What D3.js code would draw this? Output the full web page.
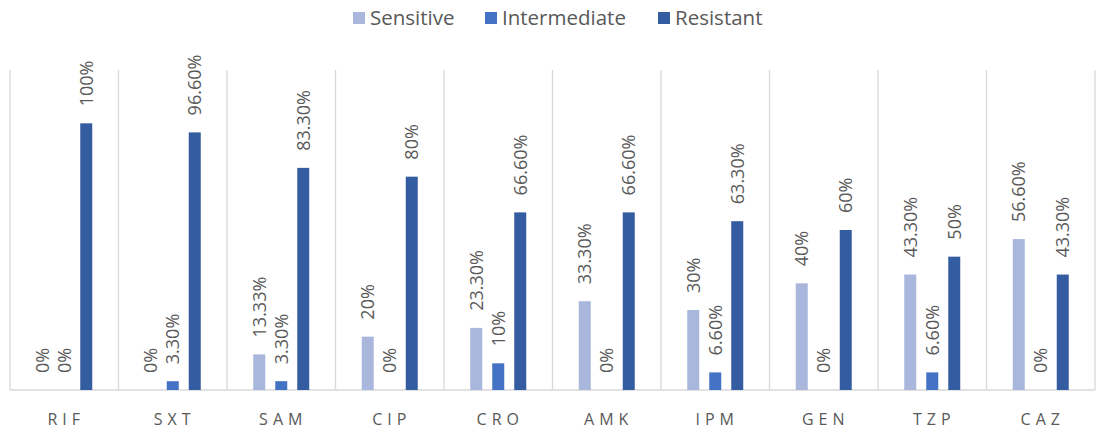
<!DOCTYPE html>
<html><head><meta charset="utf-8">
<script src="https://cdn.jsdelivr.net/npm/d3@7"></script>
<style>body{margin:0;background:#fff}svg{display:block}</style>
</head><body>
<svg id="c" width="1096" height="432"></svg>
<script>
const categories = ["RIF","SXT","SAM","CIP","CRO","AMK","IPM","GEN","TZP","CAZ"];
const seriesNames = ["Sensitive","Intermediate","Resistant"];
const sensitive = [0,0,13.33,20,23.3,33.3,30,40,43.3,56.6];
const intermediate = [0,3.3,3.3,0,10,0,6.6,0,6.6,0];
const resistant = [100,96.6,83.3,80,66.6,66.6,63.3,60,50,43.3];
const labelsS = ["0%","0%","13.33%","20%","23.30%","33.30%","30%","40%","43.30%","56.60%"];
const labelsI = ["0%","3.30%","3.30%","0%","10%","0%","6.60%","0%","6.60%","0%"];
const labelsR = ["100%","96.60%","83.30%","80%","66.60%","66.60%","63.30%","60%","50%","43.30%"];
const colors = ["#A9B7DC","#4472C4","#345CA0"];

(function(){
const svg = d3.select("#c");
const font = "'Open Sans', 'Noto Sans', sans-serif";
const pl = 10, pr = 1095, pt = 70, pb = 390;
const x = d3.scaleBand().domain(categories).range([pl, pr]).padding(0);
const y = d3.scaleLinear().domain([0, 120]).range([pb, pt]);

const gx = d3.range(categories.length + 1).map(i => pl + i * x.bandwidth());
svg.append("g").selectAll("line").data(gx).join("line")
  .attr("x1", d => d).attr("x2", d => d).attr("y1", pt).attr("y2", pb)
  .attr("stroke", "#D9D9D9").attr("stroke-width", 1.3);
svg.append("line").attr("x1", pl).attr("x2", pr).attr("y1", pb).attr("y2", pb)
  .attr("stroke", "#D9D9D9").attr("stroke-width", 1.3);

const data = [sensitive, intermediate, resistant];
const labels = [labelsS, labelsI, labelsR];
const barW = 12, step = 22;
seriesNames.forEach((s, si) => {
  const g = svg.append("g");
  const off = (si - 1) * step;
  g.selectAll("rect").data(categories).join("rect")
    .attr("x", (c) => x(c) + x.bandwidth() / 2 + off - barW / 2)
    .attr("width", barW)
    .attr("y", (c, i) => y(data[si][i]))
    .attr("height", (c, i) => pb - y(data[si][i]))
    .attr("fill", colors[si]);
  g.selectAll("text").data(categories).join("text")
    .attr("transform", (c, i) => {
      const cx = x(c) + x.bandwidth() / 2 + off;
      const ty = y(data[si][i]) - 17;
      return `translate(${cx},${ty}) rotate(-90)`;
    })
    .attr("dy", "0.35em")
    .attr("text-anchor", "start")
    .attr("font-family", font).attr("font-size", 18).attr("fill", "#595959")
    .text((c, i) => labels[si][i]);
});

svg.append("g").selectAll("text").data(categories).join("text")
  .attr("x", c => x(c) + x.bandwidth() / 2 + 2)
  .attr("y", 425)
  .attr("text-anchor", "middle")
  .attr("font-family", font).attr("font-size", 16).attr("fill", "#595959")
  .attr("letter-spacing", "5px")
  .text(c => c);

const legX = [353, 485, 658];
const lg = svg.append("g");
seriesNames.forEach((s, i) => {
  lg.append("rect").attr("x", legX[i]).attr("y", 12).attr("width", 12).attr("height", 12).attr("fill", colors[i]);
  lg.append("text").attr("x", legX[i] + 17).attr("y", 18).attr("dy", "0.35em")
    .attr("font-family", font).attr("font-size", 20.5).attr("fill", "#595959").text(s);
});
})();
</script>
</body></html>
